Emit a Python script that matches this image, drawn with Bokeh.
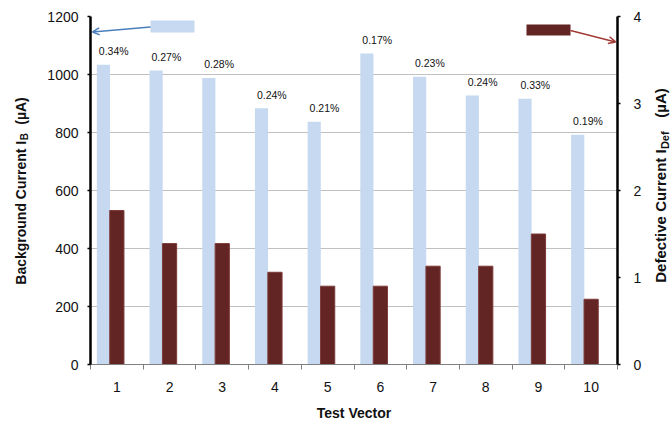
import math

from bokeh.plotting import figure
from bokeh.layouts import row
from bokeh.models import (Range1d, LinearAxis, FixedTicker, Arrow, OpenHead,
                          BoxAnnotation, ColumnDataSource)
from bokeh.core.properties import value
from bokeh.transform import dodge
from bokeh.embed import file_html
from bokeh.resources import INLINE

# ---- data -------------------------------------------------------------
vectors = [1, 2, 3, 4, 5, 6, 7, 8, 9, 10]
background_ua = [1034, 1014, 988, 884, 837, 1072, 992, 928, 916, 792]
defective_ua = [1.77, 1.39, 1.39, 1.06, 0.90, 0.90, 1.13, 1.13, 1.50, 0.75]
ratio_labels = ["0.34%", "0.27%", "0.28%", "0.24%", "0.21%",
                "0.17%", "0.23%", "0.24%", "0.33%", "0.19%"]
left_ticks = [0, 200, 400, 600, 800, 1000, 1200]
right_ticks = [0, 1, 2, 3, 4]

# ---- layout -----------------------------------------------------------
W, H = 670, 423
LEFT_STRIP = 36                         # strip holding the left axis title
RIGHT_STRIP = 26                        # strip holding the right axis title
L, R, T, B = 90, 617, 16, 365           # frame edges in page pixels
MAIN_W = W - LEFT_STRIP - RIGHT_STRIP
FONT = "Liberation Sans"
LIGHT = "#c6d9f1"
DARK = "#632523"
INK = "#111111"

def sx(px):
    """page x pixel -> x data value of the main plot"""
    return 0.5 + (px - L) * 10 / (R - L)

def sy(py):
    """page y pixel -> primary-axis data value of the main plot"""
    return (B - py) * 1200 / (B - T)

p = figure(width=MAIN_W, height=H, x_range=Range1d(0.5, 10.5), y_range=Range1d(0, 1200),
           output_backend="svg", toolbar_location=None,
           min_border_left=L - LEFT_STRIP, min_border_right=W - RIGHT_STRIP - R,
           min_border_top=T, min_border_bottom=H - B)
p.outline_line_color = None
p.background_fill_color = "white"
p.border_fill_color = "white"
p.extra_y_ranges = {"def": Range1d(0, 4)}

src = ColumnDataSource(dict(x=vectors, bg=background_ua, df=defective_ua, lab=ratio_labels))

# bars
p.vbar(x=dodge("x", -0.255, range=p.x_range), top="bg", bottom=0, width=0.25,
       source=src, fill_color=LIGHT, line_color=None)
p.vbar(x=dodge("x", 0.0, range=p.x_range), top="df", bottom=0, width=0.27,
       source=src, y_range_name="def", fill_color=DARK, line_color="#7d3b39", line_width=1)

# ratio labels above the background bars
p.text(x=dodge("x", -0.06, range=p.x_range), y=dodge("bg", 26, range=p.y_range), text="lab",
       source=src, text_align="center", text_baseline="bottom",
       text_font=value(FONT), text_font_size="10.5px", text_color=INK)

# grid
p.xgrid.visible = False
p.ygrid.grid_line_color = "#c0c0c0"
p.ygrid.grid_line_width = 1
p.ygrid.ticker = FixedTicker(ticks=left_ticks)

# x axis: labels at vector centres, tick marks at category boundaries
xa = p.xaxis[0]
xa.ticker = FixedTicker(ticks=vectors, minor_ticks=[v + 0.5 for v in [0] + vectors])
xa.major_tick_out = 0
xa.major_tick_in = 0
xa.minor_tick_out = 5
xa.minor_tick_in = 0
xa.minor_tick_line_color = "#808080"
xa.axis_line_color = "#808080"
xa.axis_line_width = 1
xa.major_label_standoff = 12
xa.major_label_text_font = FONT
xa.major_label_text_font_size = "14px"
xa.major_label_text_color = INK
xa.axis_label = "Test Vector"
xa.axis_label_text_font = FONT
xa.axis_label_text_font_style = "bold"
xa.axis_label_text_font_size = "14px"
xa.axis_label_text_color = INK
xa.axis_label_standoff = 10

# left axis
ya = p.yaxis[0]
ya.ticker = FixedTicker(ticks=left_ticks)
ya.axis_line_color = "black"
ya.axis_line_width = 2.5
ya.major_tick_line_color = "black"
ya.major_tick_line_width = 1.5
ya.major_tick_out = 3
ya.major_tick_in = 0
ya.minor_tick_line_color = None
ya.major_label_standoff = 9
ya.major_label_text_font = FONT
ya.major_label_text_font_size = "14px"
ya.major_label_text_color = INK

# right axis
ra = LinearAxis(y_range_name="def", ticker=FixedTicker(ticks=right_ticks))
ra.axis_line_color = "black"
ra.axis_line_width = 2.5
ra.major_tick_line_color = "black"
ra.major_tick_line_width = 1.5
ra.major_tick_out = 3
ra.major_tick_in = 0
ra.minor_tick_line_color = None
ra.major_label_standoff = 13
ra.major_label_text_font = FONT
ra.major_label_text_font_size = "14px"
ra.major_label_text_color = INK
p.add_layout(ra, "right")

# series keys pointing to their axes
p.add_layout(BoxAnnotation(left=sx(150), right=sx(194), top=sy(20), bottom=sy(32),
                           fill_color=LIGHT, fill_alpha=1, line_color=None))
p.add_layout(Arrow(x_start=sx(150), y_start=sy(26.5), x_end=sx(92), y_end=sy(31.5),
                   line_color="#4a7ebb", line_width=1.5,
                   end=OpenHead(size=7, line_color="#4a7ebb", line_width=1.5)))

p.add_layout(BoxAnnotation(left=sx(526), right=sx(570), top=sy(24), bottom=sy(35),
                           fill_color=DARK, fill_alpha=1, line_color=None))
p.add_layout(Arrow(x_start=sx(570), y_start=sy(30), x_end=sx(615), y_end=sy(41.5),
                   line_color="#a33a36", line_width=1.5,
                   end=OpenHead(size=7, line_color="#a33a36", line_width=1.5)))


# ---- vertical axis titles (with subscripts) in narrow side strips --------
# The row aligns plot frames, so each strip's frame spans page rows T..B;
# its y range is set so that a y value equals H minus the page pixel row.
def strip(width):
    s = figure(width=width, height=H, x_range=Range1d(0, width), y_range=Range1d(H - B, H - T),
               output_backend="svg", toolbar_location=None,
               x_axis_type=None, y_axis_type=None,
               min_border=0, min_border_left=0, min_border_right=0,
               min_border_top=T, min_border_bottom=H - B)
    s.outline_line_color = None
    s.background_fill_color = "white"
    s.border_fill_color = "white"
    return s

def title_parts(s, parts):
    # parts: (x pixel in strip, page y pixel of the anchor, text, size, align)
    # rotated text reads upward; "left" anchors the run's start, "right" its end
    for px, py, text, size, align in parts:
        s.text(x=[px], y=[H - py], text=[text], angle=math.pi / 2,
               text_align=align, text_baseline="middle",
               text_font=value(FONT), text_font_style="bold",
               text_font_size=size, text_color=INK)

left_strip = strip(LEFT_STRIP)
title_parts(left_strip, [
    (20, 285, "Background Current  I", "14px", "left"),
    (24, 140, "B", "10px", "left"),
    (20, 97, "(\u00b5A)", "14px", "right"),
])

right_strip = strip(RIGHT_STRIP)
title_parts(right_strip, [
    (16, 283, "Defective Current  I", "15px", "left"),
    (20, 149, "Def", "11px", "left"),
    (16, 88, "(\u00b5A)", "15px", "right"),
])

layout = row(left_strip, p, right_strip, spacing=0)
open("out.html", "w").write(file_html(layout, INLINE))
